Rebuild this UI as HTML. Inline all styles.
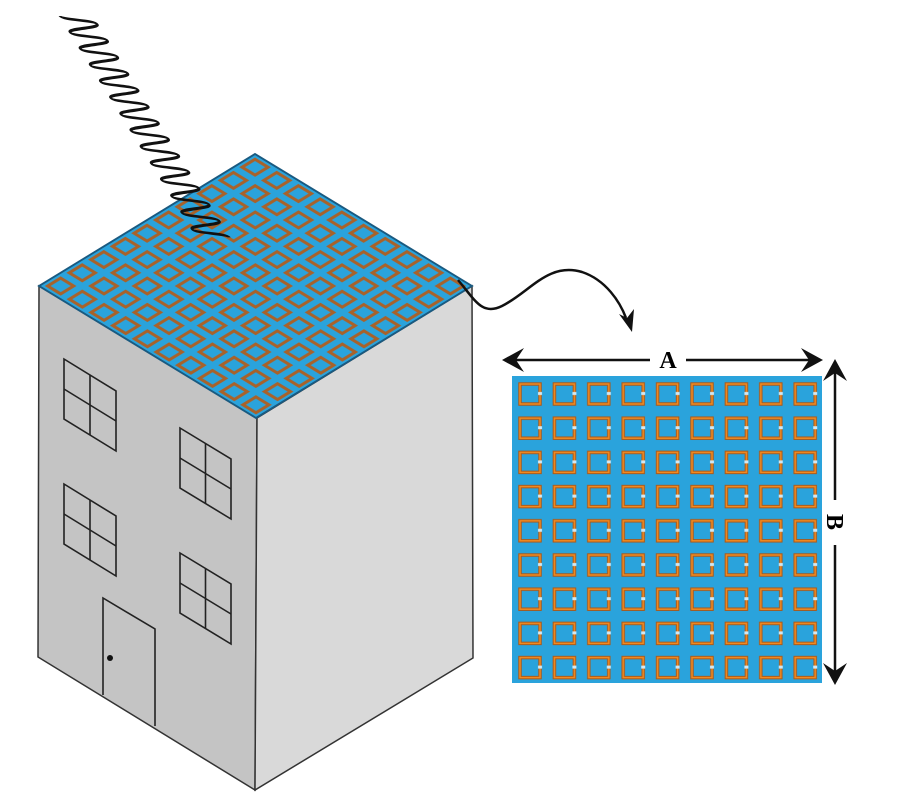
<!DOCTYPE html>
<html><head><meta charset="utf-8"><style>html,body{margin:0;padding:0;background:#fff}svg{display:block}</style></head>
<body>
<svg width="900" height="800" viewBox="0 0 900 800" xmlns="http://www.w3.org/2000/svg">
<defs>
<pattern id="roofp" x="0" y="0" width="30" height="30" patternUnits="userSpaceOnUse">
<rect x="6" y="6" width="18" height="18" fill="none" stroke="#a8622a" stroke-width="4"/>
</pattern>
<pattern id="panp" x="512" y="376" width="34.4" height="34.2" patternUnits="userSpaceOnUse">
<rect x="8" y="8" width="20" height="20" fill="none" stroke="#a85a1c" stroke-width="3.5"/>
<rect x="8" y="8" width="20" height="20" fill="none" stroke="#f08a20" stroke-width="1.5"/>
<rect x="26" y="16" width="4" height="3" fill="#cfe8f5"/>
</pattern>
</defs>
<polygon points="39,286 257,418 255,790 38,657" fill="#c4c4c4" stroke="#333" stroke-width="1.5"/>
<polygon points="257,418 472,286 473,658 255,790" fill="#d9d9d9" stroke="#333" stroke-width="1.5"/>
<g transform="matrix(0.7233,0.44,-0.72,0.44,255,154)">
<rect x="0" y="0" width="300" height="300" fill="#2aa3dc" stroke="#1a5a80" stroke-width="2.5"/>
<rect x="0" y="0" width="300" height="300" fill="url(#roofp)"/>
</g>
<g fill="none" stroke="#222" stroke-width="1.6">
<polygon points="64,359 116,391 116,451 64,419"/><line x1="90" y1="375" x2="90" y2="435"/><line x1="64" y1="389" x2="116" y2="421"/>
<polygon points="180,428 231,459 231,519 180,488"/><line x1="205.5" y1="443.5" x2="205.5" y2="503.5"/><line x1="180" y1="458" x2="231" y2="489"/>
<polygon points="64,484 116,516 116,576 64,544"/><line x1="90" y1="500" x2="90" y2="560"/><line x1="64" y1="514" x2="116" y2="546"/>
<polygon points="180,553 231,584 231,644 180,613"/><line x1="205.5" y1="568.5" x2="205.5" y2="628.5"/><line x1="180" y1="583" x2="231" y2="614"/>
<polyline points="103,695 103,598 155,629 155,726"/>
</g>
<circle cx="110" cy="658" r="3" fill="#111"/>
<g transform="matrix(1,0,0.62,1,76,16)">
<path d="M-16,0 c0,4.2 32,4 32,8.2 c0,4.2 -32,4 -32,8.2 c0,4.2 32,4 32,8.2 c0,4.2 -32,4 -32,8.2 c0,4.2 32,4 32,8.2 c0,4.2 -32,4 -32,8.2 c0,4.2 32,4 32,8.2 c0,4.2 -32,4 -32,8.2 c0,4.2 32,4 32,8.2 c0,4.2 -32,4 -32,8.2 c0,4.2 32,4 32,8.2 c0,4.2 -32,4 -32,8.2 c0,4.2 32,4 32,8.2 c0,4.2 -32,4 -32,8.2 c0,4.2 32,4 32,8.2 c0,4.2 -32,4 -32,8.2 c0,4.2 32,4 32,8.2 c0,4.2 -32,4 -32,8.2 c0,4.2 32,4 32,8.2 c0,4.2 -32,4 -32,8.2 c0,4.2 32,4 32,8.2 c0,4.2 -32,4 -32,8.2 c0,4.2 32,4 32,8.2 c0,4.2 -32,4 -32,8.2 c0,4.2 32,4 32,8.2 c0,4.2 -32,4 -32,8.2 c0,4.2 32,4 32,8.2" fill="none" stroke="#111" stroke-width="2.8"/>
</g>
<path d="M458,280 C475,300 482,316 502,306 C530,292 548,262 582,272 C606,280 620,302 626,318" fill="none" stroke="#111" stroke-width="2.5"/>
<polygon points="619,314 632,332 634,309 627,318" fill="#111"/>
<rect x="512" y="376" width="310" height="307" fill="#2aa3dc"/>
<rect x="512" y="376" width="310" height="307" fill="url(#panp)"/>
<line x1="508" y1="360" x2="650" y2="360" stroke="#111" stroke-width="2.5"/>
<line x1="686" y1="360" x2="815" y2="360" stroke="#111" stroke-width="2.5"/>
<polygon points="502,360 524,348 516,360 524,372" fill="#111"/>
<polygon points="823,360 801,348 809,360 801,372" fill="#111"/>
<text x="668" y="368" font-family="Liberation Serif, serif" font-weight="bold" font-size="24" text-anchor="middle">A</text>
<line x1="835" y1="365" x2="835" y2="500" stroke="#111" stroke-width="2.5"/>
<line x1="835" y1="545" x2="835" y2="680" stroke="#111" stroke-width="2.5"/>
<polygon points="835,359 823,381 835,373 847,381" fill="#111"/>
<polygon points="835,685 823,663 835,671 847,663" fill="#111"/>
<text x="0" y="0" transform="translate(827,522) rotate(90)" font-family="Liberation Serif, serif" font-weight="bold" font-size="24" text-anchor="middle">B</text>
</svg>
</body></html>
